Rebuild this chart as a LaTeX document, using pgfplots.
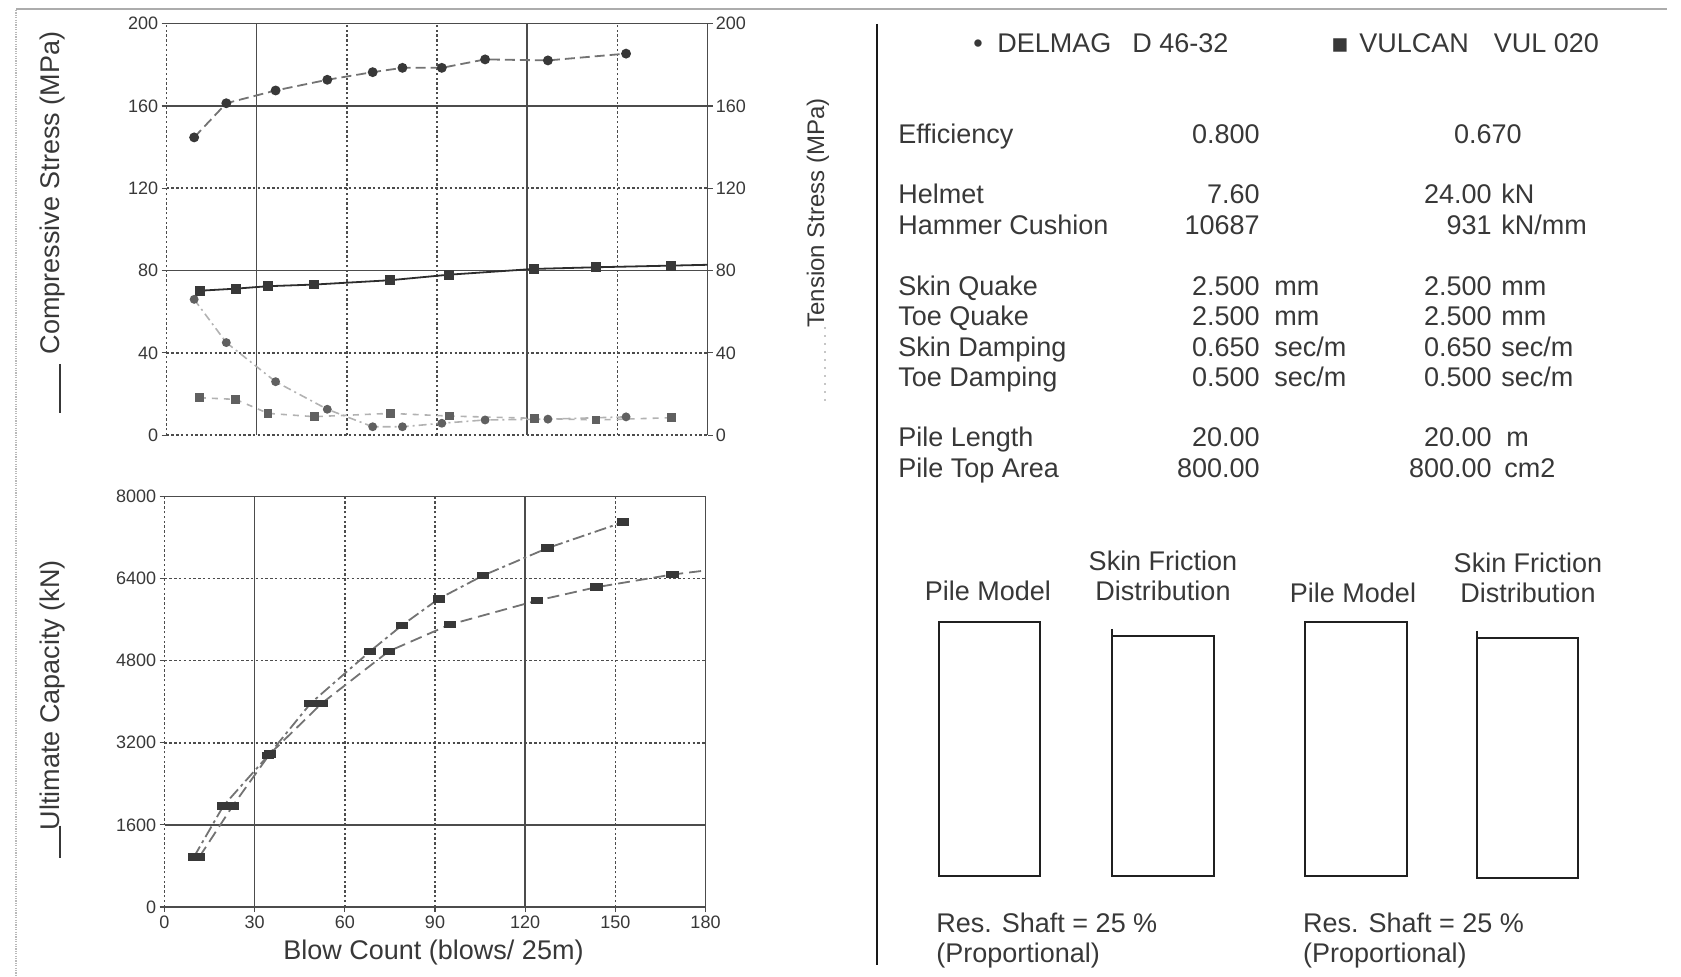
\documentclass[border=0pt]{standalone}
\usepackage{pgfplots}
\pgfplotsset{compat=1.18}
\usepackage{fontspec}
\setmainfont{Liberation Sans}
\newfontfamily\symfont{DejaVu Sans}
\definecolor{gridc}{gray}{0.30}
\definecolor{linec}{gray}{0.45}
\definecolor{markc}{gray}{0.22}
\definecolor{textc}{gray}{0.22}
\newcommand\lab{\fontsize{13.5}{16}\selectfont}
\newcommand\tk{\fontsize{9}{10}\selectfont}

\pgfplotstableread{
x y
9.2 144.7
19.9 161.3
36.3 167.5
53.5 172.7
68.6 176.4
78.5 178.5
91.6 178.5
106 182.6
126.9 182.1
152.9 185.4
}\compdel
\pgfplotstableread{
x y
11.1 70.2
23 71.2
33.8 72.4
49.2 73.2
74.4 75.3
94.1 78.0
122.4 80.8
142.9 81.6
167.9 82.4
180 82.8
}\compvul
\pgfplotstableread{
x y
9.2 66
19.9 45
36.3 26
53.5 12.6
68.6 4.1
78.5 4.1
91.6 5.8
106 7.4
126.9 7.8
152.9 8.9
}\tensdel
\pgfplotstableread{
x y
11.1 18.2
23 17.4
33.8 10.6
49.2 9.0
74.4 10.6
94.1 9.3
122.4 8.2
142.9 7.4
167.9 8.5
}\tensvul
\pgfplotstableread{
x y
9.8 976
19.6 1971
34.4 2946
48.6 3967
68.4 4982
78.9 5483
91.2 6003
106 6459
127.4 6992
152.6 7498
}\capdel
\pgfplotstableread{
x y
11.6 976
22.7 1971
35 2979
52.3 3967
74.6 4982
94.9 5502
124 5971
143.7 6231
169 6478
180 6556
}\capvul

\tikzset{
  sg/.style={draw=gridc, line width=0.8pt},
  dg/.style={draw=gridc, line width=0.8pt, dash pattern=on 1.2pt off 1.2pt},
}
\pgfplotsset{
  base/.style={scale only axis, width=270.5pt, clip=false,
    xmin=0, xmax=180, axis line style={draw=none},
    tick align=outside, major tick length=2.5pt,
    tick style={draw=gridc, line width=0.6pt},
    every tick label/.append style={font=\tk, text=textc},
    yticklabel style={inner sep=1.5pt},
    /pgf/number format/assume math mode=true,
    /pgf/number format/1000 sep={}},
  cdel/.style={draw=linec, line width=0.9pt, dash pattern=on 5pt off 2.5pt,
    mark=*, mark size=2pt, mark options={solid, fill=markc, draw=markc}},
  cvul/.style={draw=gray!35!black, line width=0.9pt,
    mark=square*, mark size=2pt, mark options={solid, fill=markc, draw=markc}},
  tdel/.style={draw=gray!60, line width=0.8pt, dash pattern=on 4pt off 2pt on 1pt off 2pt,
    mark=*, mark size=1.8pt, mark options={solid, fill=markc!80, draw=markc!80}},
  tvul/.style={draw=gray!60, line width=0.8pt, dash pattern=on 3pt off 3pt,
    mark=square*, mark size=1.8pt, mark options={solid, fill=markc!80, draw=markc!80}},
  kdel/.style={draw=linec, line width=0.9pt, dash pattern=on 6pt off 2pt on 1.5pt off 2pt,
    mark=square*, mark size=2pt, mark options={solid, fill=markc, draw=markc, yscale=0.7, xscale=1.3}},
  kvul/.style={draw=linec, line width=0.9pt, dash pattern=on 6pt off 3pt,
    mark=square*, mark size=2pt, mark options={solid, fill=markc, draw=markc, yscale=0.7, xscale=1.3}},
}

\begin{document}
\begin{tikzpicture}
\useasboundingbox (0,0) rectangle (840.5pt,-488.5pt);
% frame
\draw[gray!65, line width=1pt] (8pt,-4.3pt) -- (833.5pt,-4.3pt);
\draw[gray!55, line width=0.8pt, dash pattern=on 0.6pt off 0.6pt] (8pt,-5pt) -- (8pt,-487.5pt);
\draw[gray!20!black, line width=0.7pt] (438.5pt,-12pt) -- (438.5pt,-482.5pt);

% ---------- top: stresses ----------
\begin{axis}[base, at={(83.25pt,-217.6pt)}, anchor=south west, height=205.8pt,
  ymin=0, ymax=200, xtick=\empty, ytick={0,40,80,120,160,200}, ytick pos=left]
  \draw[sg] (axis cs:0,200) -- (axis cs:180,200);
  \draw[sg] (axis cs:0,160) -- (axis cs:180,160);
  \draw[sg] (axis cs:0,80) -- (axis cs:180,80);
  \draw[dg] (axis cs:0,120) -- (axis cs:180,120);
  \draw[dg] (axis cs:0,40) -- (axis cs:180,40);
  \draw[dg] (axis cs:0,0) -- (axis cs:180,0);
  \draw[dg] (axis cs:0,0) -- (axis cs:0,200);
  \draw[sg] (axis cs:30,0) -- (axis cs:30,200);
  \draw[dg] (axis cs:60,0) -- (axis cs:60,200);
  \draw[dg] (axis cs:90,0) -- (axis cs:90,200);
  \draw[sg] (axis cs:120,0) -- (axis cs:120,200);
  \draw[dg] (axis cs:150,0) -- (axis cs:150,200);
  \draw[sg] (axis cs:180,0) -- (axis cs:180,200);
  \addplot[cdel] table[x=x,y=y] {\compdel};
  \addplot[cvul, mark indices={1,2,3,4,5,6,7,8,9}] table[x=x,y=y] {\compvul};
\end{axis}
\begin{axis}[base, at={(83.25pt,-217.6pt)}, anchor=south west, height=205.8pt,
  ymin=0, ymax=200, xtick=\empty, ytick={0,40,80,120,160,200},
  ytick pos=right, yticklabel pos=right]
  \addplot[tdel] table[x=x,y=y] {\tensdel};
  \addplot[tvul] table[x=x,y=y] {\tensvul};
\end{axis}

% ---------- bottom: capacity ----------
\begin{axis}[base, at={(82.25pt,-453.5pt)}, anchor=south west, height=205.3pt,
  ymin=0, ymax=8000, xtick={0,30,60,90,120,150,180}, xtick pos=bottom,
  ytick={0,1600,3200,4800,6400,8000}, ytick pos=left,
  xticklabel style={inner sep=2pt}]
  \draw[sg] (axis cs:0,8000) -- (axis cs:180,8000);
  \draw[dg] (axis cs:0,6400) -- (axis cs:180,6400);
  \draw[dg] (axis cs:0,4800) -- (axis cs:180,4800);
  \draw[dg] (axis cs:0,3200) -- (axis cs:180,3200);
  \draw[sg] (axis cs:0,1600) -- (axis cs:180,1600);
  \draw[sg] (axis cs:0,0) -- (axis cs:180,0);
  \draw[dg] (axis cs:0,0) -- (axis cs:0,8000);
  \draw[sg] (axis cs:30,0) -- (axis cs:30,8000);
  \draw[dg] (axis cs:60,0) -- (axis cs:60,8000);
  \draw[dg] (axis cs:90,0) -- (axis cs:90,8000);
  \draw[sg] (axis cs:120,0) -- (axis cs:120,8000);
  \draw[dg] (axis cs:150,0) -- (axis cs:150,8000);
  \draw[sg] (axis cs:180,0) -- (axis cs:180,8000);
  \addplot[kdel] table[x=x,y=y] {\capdel};
  \addplot[kvul, mark indices={1,2,3,4,5,6,7,8,9}] table[x=x,y=y] {\capvul};
\end{axis}

% axis titles
\begin{scope}[every node/.style={font=\lab, inner sep=0, text=textc}]
\node[rotate=90, anchor=base] at (29.5pt,-96.5pt) {Compressive Stress (MPa)};
\draw[textc, line width=0.6pt] (30pt,-182pt) -- (30pt,-206.5pt);
\node[rotate=90, anchor=base] at (29.5pt,-347.6pt) {Ultimate Capacity (kN)};
\draw[textc, line width=0.6pt] (30pt,-412.8pt) -- (30pt,-428.8pt);
\node[rotate=90, anchor=base, font=\fontsize{12}{14}\selectfont] at (412pt,-106.5pt) {Tension Stress (MPa)};
\draw[gray!45, line width=1pt, dash pattern=on 1pt off 3pt] (412.5pt,-163.5pt) -- (412.5pt,-202.5pt);
\node[anchor=base] at (216.75pt,-479.5pt) {Blow Count (blows/ 25m)};

% legend
\node[anchor=base] at (489pt,-26.3pt) {•};
\node[anchor=base west] at (498.5pt,-26.3pt) {DELMAG};
\node[anchor=base west] at (566pt,-26.3pt) {D 46-32};
\node[anchor=base, font={\symfont\fontsize{13.5}{16}\selectfont}] at (670pt,-26.3pt) {▪};
\node[anchor=base west] at (679.5pt,-26.3pt) {VULCAN};
\node[anchor=base west] at (746.7pt,-26.3pt) {VUL 020};

% table
\node[anchor=base west] at (449pt,-72pt) {Efficiency};
\node[anchor=base east] at (630pt,-72pt) {0.800};
\node[anchor=base east] at (761pt,-72pt) {0.670};
\node[anchor=base west] at (449pt,-102pt) {Helmet};
\node[anchor=base east] at (630pt,-102pt) {7.60};
\node[anchor=base east] at (746pt,-102pt) {24.00};
\node[anchor=base west] at (750.5pt,-102pt) {kN};
\node[anchor=base west] at (449pt,-117.5pt) {Hammer Cushion};
\node[anchor=base east] at (630pt,-117.5pt) {10687};
\node[anchor=base east] at (746pt,-117.5pt) {931};
\node[anchor=base west] at (750.5pt,-117.5pt) {kN/mm};
\node[anchor=base west] at (449pt,-148pt) {Skin Quake};
\node[anchor=base east] at (630pt,-148pt) {2.500};
\node[anchor=base west] at (637pt,-148pt) {mm};
\node[anchor=base east] at (746pt,-148pt) {2.500};
\node[anchor=base west] at (750.5pt,-148pt) {mm};
\node[anchor=base west] at (449pt,-163pt) {Toe Quake};
\node[anchor=base east] at (630pt,-163pt) {2.500};
\node[anchor=base west] at (637pt,-163pt) {mm};
\node[anchor=base east] at (746pt,-163pt) {2.500};
\node[anchor=base west] at (750.5pt,-163pt) {mm};
\node[anchor=base west] at (449pt,-178.5pt) {Skin Damping};
\node[anchor=base east] at (630pt,-178.5pt) {0.650};
\node[anchor=base west] at (637pt,-178.5pt) {sec/m};
\node[anchor=base east] at (746pt,-178.5pt) {0.650};
\node[anchor=base west] at (750.5pt,-178.5pt) {sec/m};
\node[anchor=base west] at (449pt,-193.5pt) {Toe Damping};
\node[anchor=base east] at (630pt,-193.5pt) {0.500};
\node[anchor=base west] at (637pt,-193.5pt) {sec/m};
\node[anchor=base east] at (746pt,-193.5pt) {0.500};
\node[anchor=base west] at (750.5pt,-193.5pt) {sec/m};
\node[anchor=base west] at (449pt,-223.5pt) {Pile Length};
\node[anchor=base east] at (630pt,-223.5pt) {20.00};
\node[anchor=base east] at (746pt,-223.5pt) {20.00};
\node[anchor=base west] at (753pt,-223.5pt) {m};
\node[anchor=base west] at (449pt,-239pt) {Pile Top Area};
\node[anchor=base east] at (630pt,-239pt) {800.00};
\node[anchor=base east] at (746pt,-239pt) {800.00};
\node[anchor=base west] at (752pt,-239pt) {cm2};
% pile models
\node[anchor=base] at (494pt,-300.5pt) {Pile Model};
\node[anchor=base] at (581.5pt,-285.5pt) {Skin Friction};
\node[anchor=base] at (581.5pt,-300.5pt) {Distribution};
\node[anchor=base] at (676.5pt,-301.5pt) {Pile Model};
\node[anchor=base] at (764pt,-286.5pt) {Skin Friction};
\node[anchor=base] at (764pt,-301.5pt) {Distribution};
\node[anchor=base west] at (468pt,-466pt) {Res. Shaft = 25 \%};
\node[anchor=base west] at (468pt,-481pt) {(Proportional)};
\node[anchor=base west] at (651.3pt,-466pt) {Res. Shaft = 25 \%};
\node[anchor=base west] at (651.3pt,-481pt) {(Proportional)};
\end{scope}
\begin{scope}[draw=gray!25!black, line width=0.7pt]
\draw (469.5pt,-311pt) rectangle (520pt,-438pt);
\draw (556pt,-314.5pt) -- (556pt,-438pt) -- (607pt,-438pt) -- (607pt,-318pt) -- (556pt,-318pt);
\draw (652.5pt,-311pt) rectangle (703.5pt,-438pt);
\draw (738.5pt,-315.5pt) -- (738.5pt,-439pt) -- (789pt,-439pt) -- (789pt,-319pt) -- (738.5pt,-319pt);
\end{scope}
\end{tikzpicture}
\end{document}
